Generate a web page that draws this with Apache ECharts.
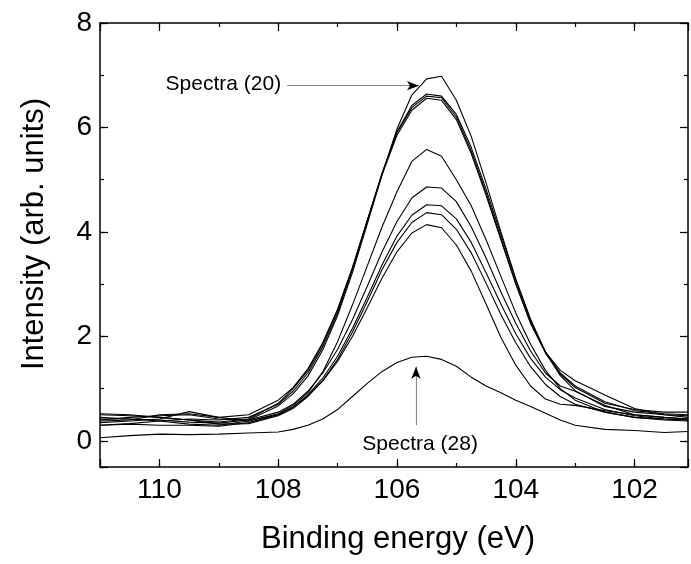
<!DOCTYPE html>
<html>
<head>
<meta charset="utf-8">
<script src="https://cdn.jsdelivr.net/npm/echarts@6/dist/echarts.min.js"></script>
<style>
  html, body { margin: 0; padding: 0; background: #fff; }
  #chart { width: 691px; height: 564px; }
</style>
</head>
<body>
<div id="chart"></div>
<script>
// binding energy grid (eV), shared by all spectra
const energies = [111, 110.5, 110, 109.5, 109, 108.5, 108, 107.75, 107.5, 107.25, 107, 106.75, 106.5, 106.25, 106,
  105.75, 105.5, 105.25, 105, 104.75, 104.5, 104.25, 104, 103.75, 103.5, 103.25, 103, 102.5, 102, 101.5, 101.1]

// intensities, one array per spectrum
const spectrum20 = [0.45, 0.42, 0.40, 0.36, 0.34, 0.40, 0.67, 0.90, 1.24, 1.74, 2.40, 3.22, 4.15, 5.10, 5.97,
  6.62, 6.93, 6.98, 6.52, 5.83, 4.94, 4.00, 3.10, 2.33, 1.70, 1.25, 0.96, 0.66, 0.55, 0.50, 0.48]
const spectrumB1 = [0.30, 0.33, 0.38, 0.42, 0.40, 0.45, 0.70, 0.95, 1.30, 1.80, 2.45, 3.28, 4.20, 5.12, 5.92,
  6.42, 6.64, 6.60, 6.25, 5.62, 4.82, 3.95, 3.08, 2.30, 1.70, 1.30, 1.05, 0.75, 0.58, 0.52, 0.50]
const spectrumB2 = [0.50, 0.48, 0.45, 0.40, 0.36, 0.42, 0.72, 1.00, 1.35, 1.85, 2.50, 3.30, 4.22, 5.13, 5.90,
  6.38, 6.60, 6.57, 6.20, 5.55, 4.75, 3.88, 3.02, 2.25, 1.68, 1.28, 1.02, 0.72, 0.60, 0.55, 0.55]
const spectrumB3 = [0.38, 0.40, 0.50, 0.52, 0.45, 0.50, 0.78, 1.02, 1.38, 1.88, 2.52, 3.32, 4.22, 5.10, 5.85,
  6.33, 6.56, 6.52, 6.15, 5.50, 4.70, 3.85, 3.00, 2.25, 1.70, 1.35, 1.15, 0.88, 0.62, 0.50, 0.45]
const spectrumC = [0.42, 0.42, 0.38, 0.32, 0.30, 0.38, 0.52, 0.68, 0.92, 1.32, 1.90, 2.60, 3.35, 4.10, 4.77,
  5.35, 5.58, 5.45, 5.00, 4.50, 3.85, 3.15, 2.45, 1.85, 1.35, 1.00, 0.78, 0.55, 0.45, 0.42, 0.40]
const spectrumD = [0.40, 0.45, 0.48, 0.50, 0.42, 0.40, 0.55, 0.70, 0.95, 1.30, 1.75, 2.32, 2.96, 3.62, 4.20,
  4.65, 4.86, 4.84, 4.58, 4.10, 3.50, 2.85, 2.25, 1.72, 1.30, 1.05, 0.95, 0.68, 0.50, 0.45, 0.42]
const spectrumE = [0.30, 0.32, 0.30, 0.30, 0.28, 0.35, 0.50, 0.65, 0.88, 1.20, 1.62, 2.15, 2.75, 3.37, 3.92,
  4.32, 4.52, 4.50, 4.25, 3.80, 3.22, 2.62, 2.05, 1.58, 1.22, 0.98, 0.82, 0.60, 0.48, 0.42, 0.40]
const spectrumF = [0.52, 0.50, 0.45, 0.40, 0.32, 0.33, 0.48, 0.62, 0.85, 1.15, 1.56, 2.08, 2.67, 3.28, 3.80,
  4.18, 4.37, 4.33, 4.05, 3.60, 3.02, 2.42, 1.88, 1.42, 1.08, 0.85, 0.70, 0.55, 0.45, 0.40, 0.38]
const spectrumG = [0.35, 0.38, 0.42, 0.56, 0.45, 0.38, 0.50, 0.65, 0.86, 1.15, 1.52, 2.00, 2.55, 3.12, 3.62,
  3.98, 4.14, 4.08, 3.75, 3.25, 2.62, 1.98, 1.45, 1.05, 0.80, 0.70, 0.68, 0.58, 0.50, 0.45, 0.42]
const spectrum28 = [0.06, 0.10, 0.13, 0.12, 0.13, 0.15, 0.17, 0.22, 0.30, 0.42, 0.60, 0.85, 1.10, 1.33, 1.50,
  1.60, 1.62, 1.56, 1.43, 1.22, 1.05, 0.92, 0.78, 0.66, 0.53, 0.40, 0.30, 0.22, 0.20, 0.16, 0.18]

const spectra = [spectrum20, spectrumB1, spectrumB2, spectrumB3, spectrumC, spectrumD, spectrumE, spectrumF, spectrumG, spectrum28]

// annotations (data coordinates)
const label20 = [107.95, 6.83]
const arrow20 = [[107.85, 6.8], [105.63, 6.8]]
const label28 = [105.61, -0.06]
const arrow28 = [[105.68, 0.3], [105.68, 1.42]]

const xRange = [101.1, 111]
const yRange = [-0.5, 8]

const font = '"Liberation Sans", Arial, sans-serif'
const chart = echarts.init(document.getElementById('chart'))

const evenLabel = v => {
  const r = Math.round(v)
  return Math.abs(v - r) < 1e-6 && r % 2 === 0 ? String(r) : ''
}

const xAxisBase = (position, step, len, showLine, showLabel) => ({
  type: 'value', position, inverse: true,
  min: xRange[0], max: xRange[1],
  minInterval: step, maxInterval: step,
  axisLine: { show: showLine, onZero: false, lineStyle: { color: '#000', width: 1.5 } },
  axisTick: { show: true, inside: true, length: len, lineStyle: { color: '#000', width: 1.2 } },
  axisLabel: { show: showLabel, formatter: evenLabel, color: '#000', fontSize: 28, fontFamily: font, margin: 9 },
  splitLine: { show: false }
})

const yAxisBase = (position, step, len, showLine, showLabel) => ({
  type: 'value', position,
  min: yRange[0], max: yRange[1],
  minInterval: step, maxInterval: step,
  axisLine: { show: showLine, onZero: false, lineStyle: { color: '#000', width: 1.5 } },
  axisTick: { show: true, inside: true, length: len, lineStyle: { color: '#000', width: 1.2 } },
  axisLabel: { show: showLabel, formatter: evenLabel, color: '#000', fontSize: 28, fontFamily: font, margin: 8 },
  splitLine: { show: false }
})

const xAxes = [
  Object.assign(xAxisBase('bottom', 2, 8, true, true), {
    name: 'Binding energy (eV)', nameLocation: 'middle', nameGap: 57,
    nameTextStyle: { color: '#000', fontSize: 31, fontFamily: font, padding: [0, 0, 0, 8] }
  }),
  xAxisBase('bottom', 1, 4, false, false),
  xAxisBase('top', 2, 8, true, false),
  xAxisBase('top', 1, 4, false, false)
]

const yAxes = [
  Object.assign(yAxisBase('left', 2, 8, true, true), {
    name: 'Intensity (arb. units)', nameLocation: 'middle', nameGap: 50,
    nameTextStyle: { color: '#000', fontSize: 31, fontFamily: font, padding: [0, 0, 0, 22] }
  }),
  yAxisBase('left', 1, 4, false, false),
  yAxisBase('right', 2, 8, true, false),
  yAxisBase('right', 1, 4, false, false)
]

const series = spectra.map((vals, i) => ({
  type: 'line',
  xAxisIndex: 0, yAxisIndex: 0,
  data: energies.map((e, j) => [e, vals[j]]),
  showSymbol: false,
  lineStyle: { color: '#000', width: 1.1 },
  silent: true
}))

const textStyle = { color: '#000', fontSize: 21, fontFamily: font }
series.push({
  type: 'line', xAxisIndex: 0, yAxisIndex: 0, data: [], silent: true,
  markLine: {
    silent: true,
    symbol: 'none',
    label: { show: false },
    lineStyle: { color: '#8a8a8a', width: 1.2, type: 'solid' },
    data: [
      [{ coord: arrow20[0] }, { coord: arrow20[1] }],
      [{ coord: arrow28[0] }, { coord: arrow28[1] }],
      [{ coord: [arrow20[1][0] + 0.2, arrow20[1][1]], symbol: 'none', lineStyle: { color: '#000', width: 0.1 } },
        { coord: arrow20[1], symbol: 'arrow', symbolSize: [7, 12] }],
      [{ coord: [arrow28[1][0], arrow28[1][1] - 0.2], symbol: 'none', lineStyle: { color: '#000', width: 0.1 } },
        { coord: arrow28[1], symbol: 'arrow', symbolSize: [7, 12] }]
    ]
  },
  markPoint: {
    silent: true,
    symbol: 'circle', symbolSize: 0,
    data: [
      { coord: label20, label: Object.assign({ show: true, position: 'left', distance: 0, formatter: 'Spectra (20)' }, textStyle) },
      { coord: label28, label: Object.assign({ show: true, position: 'inside', formatter: 'Spectra (28)' }, textStyle) }
    ]
  }
})

chart.setOption({
  animation: false,
  backgroundColor: '#fff',
  grid: { left: 100, right: 1, top: 23, bottom: 97, containLabel: false },
  xAxis: xAxes,
  yAxis: yAxes,
  series
})
</script>
</body>
</html>
